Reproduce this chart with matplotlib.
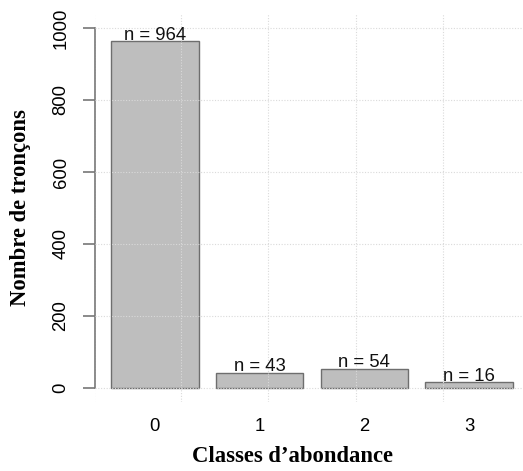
import matplotlib.pyplot as plt

classes = ['0', '1', '2', '3']
counts = [964, 43, 54, 16]
yticks = [0, 200, 400, 600, 800, 1000]

# R barplot layout: width 1, space 0.2
centers = [0.7 + 1.2 * i for i in range(len(classes))]

fig = plt.figure(figsize=(5.23, 4.71), dpi=100)
ax = fig.add_axes([95.2 / 523, (471 - 402.4) / 471, 433.6 / 523, 388.8 / 471])

ax.bar(centers, counts, width=1.0, color='#bebebe', edgecolor='#6e6e6e', linewidth=1.0, zorder=2)

# dotted grid on top of the bars
for v in yticks:
    ax.axhline(v, color='#dadada', linestyle=(0, (1, 1.5)), linewidth=0.8, zorder=3)
for v in range(0, 6):
    ax.axvline(v, color='#dadada', linestyle=(0, (1, 1.5)), linewidth=0.8, zorder=3)

for x, n in zip(centers, counts):
    ax.text(x, n + 4, f'n = {n}', ha='center', va='baseline', fontsize=13.3,
            family='Liberation Sans', color='#111111', zorder=4)

ax.set_xlim(0.016, 4.984)
ax.set_ylim(-40, 1040)

for s in ['top', 'right', 'bottom']:
    ax.spines[s].set_visible(False)
ax.spines['left'].set_bounds(0, 1000)
ax.spines['left'].set_color('#777777')
ax.spines['left'].set_linewidth(1.2)
ax.spines['left'].set_position(('data', 0.016))

ax.set_yticks(yticks)
ax.set_yticklabels([str(v) for v in yticks], rotation=90, va='center',
                   family='Liberation Sans', fontsize=13.3)
ax.tick_params(axis='y', length=8.5, width=1.2, color='#777777', pad=10)

ax.set_xticks(centers)
ax.set_xticklabels(classes, family='Liberation Sans', fontsize=13.3)
ax.tick_params(axis='x', length=0, pad=11.5)

ax.set_xlabel('Classes d\u2019abondance', family='Liberation Serif', fontweight='bold', fontsize=16.3)
ax.xaxis.set_label_coords(0.455, -0.112)
ax.set_ylabel('Nombre de tronçons', family='Liberation Serif', fontweight='bold', fontsize=16.3)
ax.yaxis.set_label_coords(-0.148, 0.5)

plt.savefig('out.png', dpi=100)
